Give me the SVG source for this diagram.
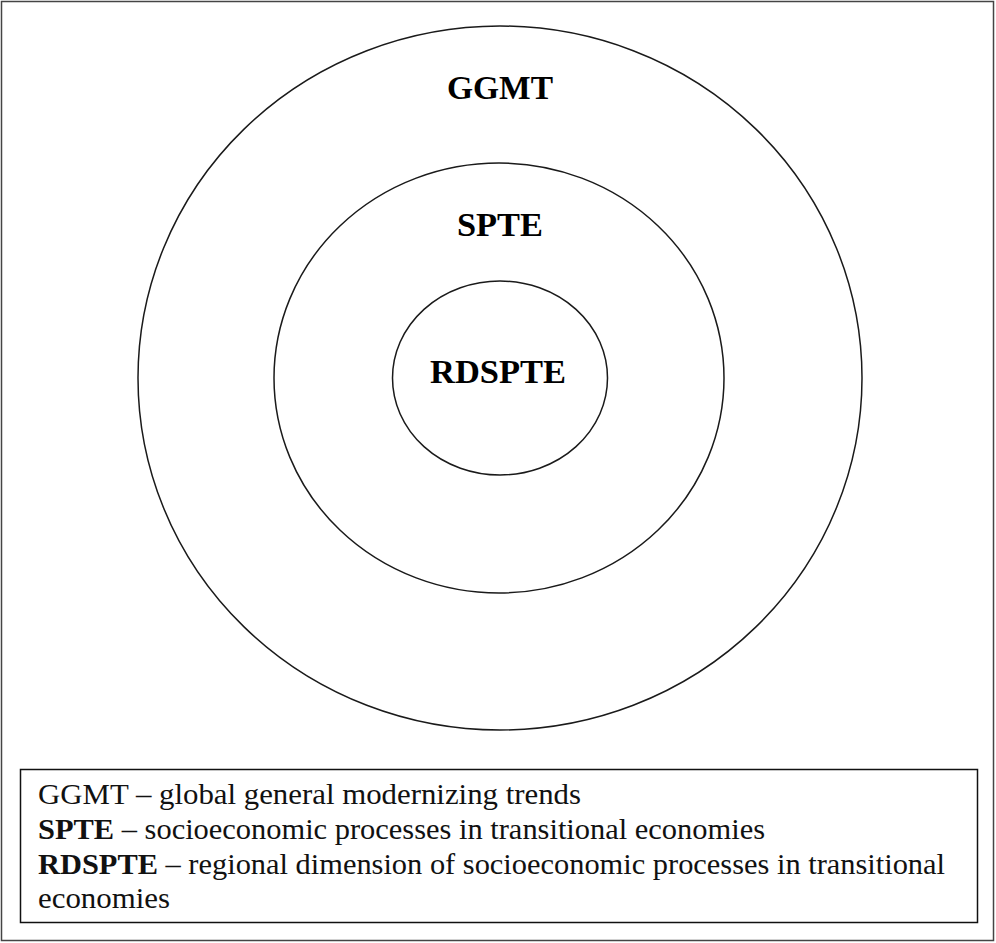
<svg xmlns="http://www.w3.org/2000/svg" width="996" height="943" viewBox="0 0 996 943">
  <style>
    .ring { fill: none; stroke: #1a1a1a; stroke-width: 1.5; }
    .title { font-family: "Liberation Serif", "Times New Roman", serif; font-weight: bold; font-size: 33px; fill: #000; text-anchor: middle; }
    .legend { font-family: "Liberation Serif", "Times New Roman", serif; font-size: 30px; fill: #111; }
    .b { font-weight: bold; }
  </style>
  <rect x="0" y="0" width="996" height="943" fill="#ffffff"/>
  <rect x="1.5" y="1.5" width="992" height="939" fill="none" stroke="#444" stroke-width="1.5"/>
  <g id="ggmt">
    <ellipse class="ring" cx="500" cy="378" rx="362" ry="352"/>
    <text class="title" x="500" y="99" textLength="106" lengthAdjust="spacingAndGlyphs">GGMT</text>
  </g>
  <g id="spte">
    <ellipse class="ring" cx="499" cy="378" rx="225" ry="215"/>
    <text class="title" x="500" y="236" textLength="86" lengthAdjust="spacingAndGlyphs">SPTE</text>
  </g>
  <g id="rdspte">
    <ellipse class="ring" cx="500" cy="378" rx="107.5" ry="97"/>
    <text class="title" x="498" y="383" textLength="136" lengthAdjust="spacingAndGlyphs">RDSPTE</text>
  </g>
  <g id="legend">
    <rect x="20.5" y="769.5" width="957" height="153" fill="none" stroke="#111" stroke-width="1.5"/>
    <text class="legend" x="38" y="804" textLength="543" lengthAdjust="spacingAndGlyphs">GGMT – global general modernizing trends</text>
    <text class="legend" x="38" y="839" textLength="727" lengthAdjust="spacingAndGlyphs"><tspan class="b">SPTE</tspan> – socioeconomic processes in transitional economies</text>
    <text class="legend" x="38" y="874" textLength="907" lengthAdjust="spacingAndGlyphs"><tspan class="b">RDSPTE</tspan> – regional dimension of socioeconomic processes in transitional</text>
    <text class="legend" x="38" y="908" textLength="132" lengthAdjust="spacingAndGlyphs">economies</text>
  </g>
</svg>
